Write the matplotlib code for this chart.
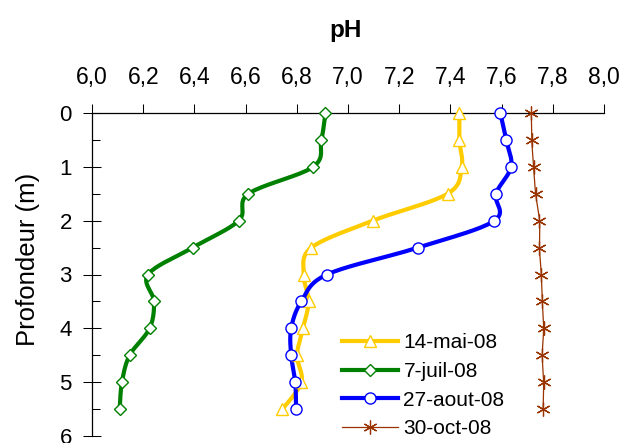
import numpy as np
import matplotlib
matplotlib.use("Agg")
import matplotlib.pyplot as plt

plt.rcParams['font.family'] = ['Liberation Sans', 'DejaVu Sans']

depth = [0, 0.5, 1.0, 1.5, 2.0, 2.5, 3.0, 3.5, 4.0, 4.5, 5.0, 5.5]
ph_mai = [7.435, 7.435, 7.444, 7.389, 7.097, 6.857, 6.827, 6.846, 6.824, 6.801, 6.818, 6.744]
ph_juil = [6.912, 6.896, 6.864, 6.611, 6.573, 6.393, 6.219, 6.242, 6.225, 6.147, 6.117, 6.108]
ph_aout = [7.595, 7.618, 7.637, 7.578, 7.572, 7.274, 6.918, 6.818, 6.778, 6.778, 6.794, 6.797]
ph_oct = [7.716, 7.718, 7.725, 7.733, 7.748, 7.748, 7.755, 7.759, 7.764, 7.759, 7.764, 7.762]
labels = ['14-mai-08', '7-juil-08', '27-aout-08', '30-oct-08']
xticks = [6.0, 6.2, 6.4, 6.6, 6.8, 7.0, 7.2, 7.4, 7.6, 7.8, 8.0]


def smooth(x, y, n=20):
    """Catmull-Rom style smoothing of the drawn line (like Excel smoothed lines)."""
    p = np.column_stack([x, y]).astype(float)
    p = np.vstack([p[0], p, p[-1]])
    out = []
    for i in range(1, len(p) - 2):
        p0, p1, p2, p3 = p[i - 1], p[i], p[i + 1], p[i + 2]
        t = np.linspace(0, 1, n, endpoint=False)[:, None]
        c = 0.5 * ((2 * p1) + (-p0 + p2) * t + (2 * p0 - 5 * p1 + 4 * p2 - p3) * t ** 2
                   + (-p0 + 3 * p1 - 3 * p2 + p3) * t ** 3)
        out.append(c)
    out.append(p[-2][None, :])
    c = np.vstack(out)
    return c[:, 0], c[:, 1]


fig = plt.figure(figsize=(6.25, 4.43), dpi=100)
ax = fig.add_axes([92 / 625, 1 - 436 / 443, (604 - 92) / 625, (436 - 113) / 443])

series = [
    (ph_mai, '#FFCC00', 3.0, '^', 9, 1.0),
    (ph_juil, '#008000', 3.0, 'D', 6.5, 1.0),
    (ph_aout, '#0000FF', 3.0, 'o', 8, 1.0),
    (ph_oct, '#993300', 0.9, (6, 2, 0), 10, 0.9),
]
for (vals, col, lw, mk, ms, mew), lab in zip(series, labels):
    sx, sy = smooth(vals, depth)
    ax.plot(sx, sy, color=col, lw=lw, solid_capstyle='round', clip_on=False, zorder=3)
    if mk == (6, 2, 0):
        ax.plot(vals, depth, ls='none', marker=mk, ms=ms, mec=col, mew=mew,
                clip_on=False, zorder=4)
    else:
        ax.plot(vals, depth, ls='none', marker=mk, ms=ms, mfc='white', mec=col, mew=mew,
                clip_on=False, zorder=4)
    ax.plot([], [], color=col, lw=lw, marker=mk, ms=ms,
            mfc='white' if mk != (6, 2, 0) else col, mec=col, mew=mew, label=lab)

ax.set_xlim(6.0, 8.0)
ax.set_ylim(6, 0)
ax.xaxis.tick_top()
ax.set_xticks(xticks)
ax.set_xticklabels([f"{v:.1f}".replace('.', ',') for v in xticks])
ax.set_yticks(range(0, 7))
ax.set_yticks(np.arange(0.5, 6, 1.0), minor=True)
ax.tick_params(axis='x', which='major', direction='out', length=6.5, width=0.75,
               labelsize=16.5, pad=11)
ax.tick_params(axis='y', which='major', direction='inout', length=13, width=0.75,
               labelsize=16, pad=8)
ax.tick_params(axis='y', which='minor', direction='in', length=6, width=0.75)
for s in ['right', 'bottom']:
    ax.spines[s].set_visible(False)
for s in ['top', 'left']:
    ax.spines[s].set_linewidth(0.9)

fig.text(346 / 625, 1 - 30 / 443, 'pH', ha='center', va='center',
         fontsize=17.5, fontweight='bold')
fig.text(28 / 625, 1 - 259 / 443, 'Profondeur (m)', ha='center', va='center',
         rotation=90, fontsize=18.5)

leg = ax.legend(loc='upper left', bbox_to_anchor=(342 / 625, 1 - 333 / 443),
                bbox_transform=fig.transFigure, frameon=False, fontsize=15,
                handlelength=2.7, handletextpad=0.25, labelspacing=0.47,
                borderpad=0, borderaxespad=0, numpoints=1)

fig.savefig('out.png', dpi=100)
